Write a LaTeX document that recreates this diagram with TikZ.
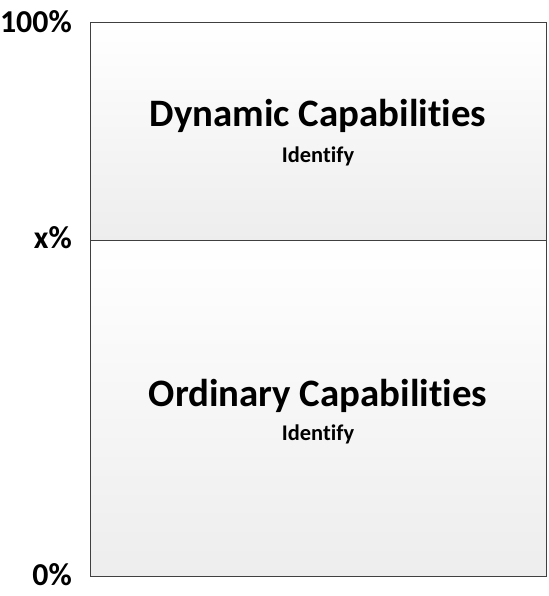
\documentclass[tikz,border=0pt]{standalone}
\usepackage{fontspec}
\setmainfont[Ligatures=NoCommon]{Carlito}
\usetikzlibrary{positioning}
\tikzset{capblock/.style={rectangle, draw=black!75, line width=1pt, top color=white, bottom color=black!7, minimum width=456bp, inner sep=0pt, outer sep=0pt}}
\tikzset{caption/.style={font=\bfseries\fontsize{39}{44}\selectfont, anchor=base, inner sep=0pt}}
\tikzset{subcaption/.style={font=\bfseries\fontsize{22.5}{26}\selectfont, anchor=base, inner sep=0pt}}
\tikzset{level/.style={font=\bfseries\fontsize{32}{36}\selectfont, anchor=base east, inner sep=0pt}}
\begin{document}
\begin{tikzpicture}[x=1bp, y=-1bp]
        \useasboundingbox (0,0) rectangle (549,596);
        \node[capblock, minimum height=217bp, anchor=north west] (dyn) at (90,23) {};
        \node[capblock, minimum height=336bp, anchor=north west] (ord) at (dyn.south west) {};

        \node[caption] (dyntitle) at (318,127) {Dynamic Capabilities};
        \node[subcaption] (dynsub) at (318,163) {Identify};
        \node[caption] (ordtitle) at (318,406) {Ordinary Capabilities};
        \node[subcaption] (ordsub) at (318,440) {Identify};

        \node[level] (top) at (72,33) {100\%};
        \node[level] (mid) at (72,248) {x\%};
        \node[level] (bot) at (72,585) {0\%};
      \end{tikzpicture}
\end{document}
